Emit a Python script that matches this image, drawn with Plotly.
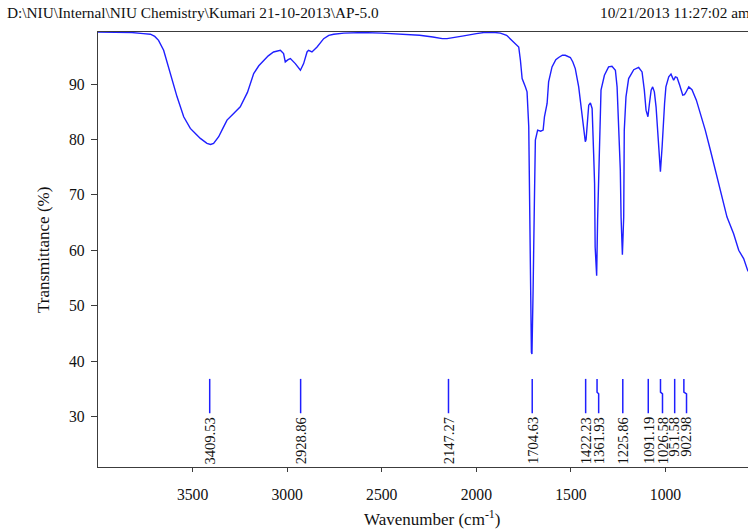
import plotly.graph_objects as go

# ---------------- data ----------------
wavenumber = [4000, 3900, 3820, 3760, 3723, 3700, 3680, 3653, 3618, 3582, 3547, 3512, 3480, 3459,
              3424, 3405, 3389, 3362, 3340, 3318, 3283, 3248, 3210, 3177, 3150, 3125, 3100, 3072,
              3036, 3019, 3010, 2995, 2983, 2957, 2930, 2913, 2895, 2887, 2869, 2842, 2807, 2780,
              2754, 2700, 2600, 2500, 2400, 2300, 2230, 2180, 2155, 2110, 2067, 2000, 1961, 1900,
              1873, 1840, 1803, 1776, 1767, 1758, 1741, 1732, 1723, 1718, 1714, 1709, 1706, 1703,
              1700, 1693, 1688, 1676, 1660, 1647, 1640, 1626, 1618, 1600, 1580, 1565, 1545, 1530,
              1515, 1503, 1490, 1477, 1459, 1445, 1433, 1424, 1420, 1415, 1406, 1397, 1388, 1380,
              1375, 1372, 1366, 1364, 1359, 1348, 1341, 1323, 1301, 1283, 1265, 1256, 1248, 1239,
              1235, 1228, 1221, 1218, 1209, 1195, 1168, 1142, 1124, 1112, 1103, 1093, 1085, 1076,
              1068, 1059, 1050, 1041, 1032, 1027, 1018, 1013, 1005, 998, 983, 971, 964, 957,
              948, 939, 925, 909, 900, 894, 877, 860, 837, 816, 790, 763, 737, 710,
              675, 640, 613, 587, 564]
transmittance = [99.4, 99.4, 99.3, 99.1, 99.0, 98.6, 97.9, 96.1, 91.9, 87.7, 84.1, 82.0, 80.9, 80.2,
                 79.3, 79.1, 79.3, 80.5, 82.0, 83.5, 84.7, 85.9, 88.5, 91.9, 93.3, 94.3, 95.1, 95.8,
                 96.1, 95.5, 94.0, 94.4, 94.6, 93.7, 92.5, 93.7, 95.8, 96.1, 95.8, 96.7, 98.2, 98.8,
                 99.0, 99.2, 99.3, 99.2, 99.0, 98.8, 98.5, 98.2, 98.2, 98.4, 98.7, 99.1, 99.3, 99.3,
                 99.2, 98.8, 97.6, 96.7, 94.3, 91.0, 89.5, 88.6, 82.3, 68.5, 49.8, 41.6, 41.3, 46.0,
                 52.8, 69.1, 79.9, 81.7, 81.5, 81.7, 84.1, 86.5, 90.4, 93.1, 94.4, 94.8, 95.2, 95.2,
                 95.0, 94.8, 94.0, 92.8, 89.5, 85.3, 81.1, 79.6, 80.0, 82.3, 86.2, 86.6, 85.6, 77.5,
                 72.1, 60.6, 55.5, 55.4, 65.5, 79.3, 88.9, 91.6, 93.1, 93.2, 92.5, 89.5, 81.7, 74.5,
                 66.0, 59.2, 66.0, 81.7, 87.7, 91.0, 92.6, 93.0, 92.2, 88.9, 85.3, 84.1, 86.5, 88.9,
                 89.5, 88.6, 85.9, 80.5, 75.1, 74.2, 78.7, 82.3, 86.5, 89.5, 91.3, 91.8, 91.2, 90.7,
                 91.3, 91.2, 89.8, 88.0, 88.1, 88.4, 89.5, 89.0, 87.1, 84.7, 81.7, 78.1, 74.5, 70.3,
                 66.0, 63.0, 60.0, 58.5, 56.2]

peak_positions = [3409.53, 2928.86, 2147.27, 1704.63, 1422.23, 1361.93, 1225.86,
                  1091.19, 1026.58, 951.58, 902.98]
peak_labels = ["3409.53", "2928.86", "2147.27", "1704.63", "1422.23", "1361.93", "1225.86",
               "1091.19", "1026.58", "951.58", "902.98"]

x_tick_values = [3500, 3000, 2500, 2000, 1500, 1000]
y_tick_values = [30, 40, 50, 60, 70, 80, 90]

header_left = "D:\\NIU\\Internal\\NIU Chemistry\\Kumari 21-10-2013\\AP-5.0"
header_right = "10/21/2013 11:27:02 am"
x_title = "Wavenumber (cm<sup>-1</sup>)"
y_title = "Transmittance (%)"

# ---------------- style ----------------
W, H = 748, 529
L, R, T, B = 98, 0, 32, 62
PW, PH = W - L - R, H - T - B
BLUE = "#1f1fff"
FONT = "Liberation Serif"
AXC = "#3c3c3c"
TXT = "#111111"

# label shift (cm-1) of some marker lines to leave room for text
label_shift = {1361.93: -8.5, 1026.58: -10.6, 902.98: -14.0}
line_top, line_mid, line_bot = 36.8, 34.4, 30.6


def paper(px, py):
    return (px - L) / PW, (H - B - py) / PH


fig = go.Figure()
fig.add_trace(go.Scatter(x=wavenumber, y=transmittance, mode="lines",
                         line=dict(color=BLUE, width=1.4), hoverinfo="skip",
                         showlegend=False))

# peak marker lines
for p in peak_positions:
    q = p + label_shift.get(p, 0.0)
    fig.add_trace(go.Scatter(x=[p, p, q, q], y=[line_top, line_mid, line_mid - 0.3, line_bot],
                             mode="lines", line=dict(color=BLUE, width=1.5),
                             hoverinfo="skip", showlegend=False))

annotations = []
for p, lab in zip(peak_positions, peak_labels):
    q = p + label_shift.get(p, 0.0)
    annotations.append(dict(x=q, y=line_bot - 0.35, xref="x", yref="y", text=lab,
                            textangle=-90, showarrow=False, xanchor="center", yanchor="top",
                            font=dict(family=FONT, size=14.5, color=TXT)))

hx, hy = paper(5, 13)
annotations.append(dict(x=hx, y=hy, xref="paper", yref="paper", text=header_left,
                        showarrow=False, xanchor="left", yanchor="middle",
                        font=dict(family=FONT, size=15.3, color=TXT)))
dx, dy = paper(598, 13)
annotations.append(dict(x=dx, y=dy, xref="paper", yref="paper", text=header_right,
                        showarrow=False, xanchor="left", yanchor="middle",
                        font=dict(family=FONT, size=15.3, color=TXT)))
tx, ty = paper(432, 518)
annotations.append(dict(x=tx, y=ty, xref="paper", yref="paper", text=x_title,
                        showarrow=False, xanchor="center", yanchor="middle",
                        font=dict(family=FONT, size=17, color=TXT)))
yx, yy = paper(44, 250)
annotations.append(dict(x=yx, y=yy, xref="paper", yref="paper", text=y_title,
                        showarrow=False, xanchor="center", yanchor="middle", textangle=-90,
                        font=dict(family=FONT, size=17, color=TXT)))

fig.update_layout(
    width=W, height=H,
    margin=dict(l=L, r=R, t=T, b=B, pad=0),
    paper_bgcolor="white", plot_bgcolor="white",
    showlegend=False,
    annotations=annotations,
    xaxis=dict(range=[4000, 564], tickvals=x_tick_values,
               ticktext=[str(v) for v in x_tick_values],
               showgrid=False, zeroline=False, showline=True, linecolor=AXC, linewidth=1.4,
               mirror=True, ticks="outside", ticklen=4, tickwidth=1.2, tickcolor=AXC,
               ticklabelstandoff=9,
               tickfont=dict(family=FONT, size=15.7, color=TXT)),
    yaxis=dict(range=[20.9, 99.4], tickvals=y_tick_values,
               ticktext=[str(v) for v in y_tick_values],
               showgrid=False, zeroline=False, showline=True, linecolor=AXC, linewidth=1.4,
               ticks="outside", ticklen=6, tickwidth=1.2, tickcolor=AXC,
               ticklabelstandoff=3,
               tickfont=dict(family=FONT, size=15.7, color=TXT)),
)

fig.write_html("out.html", config={"displayModeBar": False},
               post_script="document.body.style.margin='0px';document.body.style.padding='0px';")
